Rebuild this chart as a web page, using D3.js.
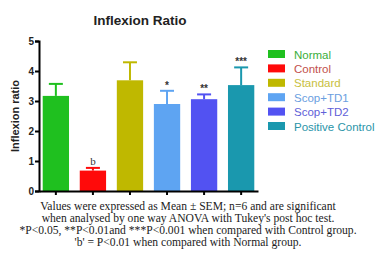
<!DOCTYPE html>
<html>
<head>
<meta charset="utf-8">
<script src="https://cdn.jsdelivr.net/npm/d3@7"></script>
<style>
  body { margin: 0; background: #fff; }
  svg { display: block; }
</style>
</head>
<body>
<svg id="chart" width="378" height="261"></svg>
<script>
const groups = ['Normal', 'Control', 'Standard', 'Scop+TD1', 'Scop+TD2', 'Positive Control']
const means = [3.17, 0.68, 3.69, 2.9, 3.06, 3.53]
const sems = [0.4, 0.09, 0.6, 0.44, 0.16, 0.59]
const marks = ['', 'b', '', '*', '**', '***']
const yTicks = [0, 1, 2, 3, 4, 5]
const notes = [
  'Values were expressed as Mean \u00b1 SEM; n=6 and are significant',
  "when analysed by one way ANOVA with Tukey's post hoc test.",
  '*P<0.05, **P<0.01and ***P<0.001  when compared with Control group.',
  "'b' = P<0.01  when compared with Normal group."
]

const colors = ['#1fc01f', '#ff0a0a', '#bfb800', '#5ea4f2', '#5252f2', '#1a98ae']
const textColors = ['#3aae3a', '#c2504d', '#c8c040', '#6a9ee0', '#6060d8', '#2a94a8']

const svg = d3.select('#chart')
const g = svg.append('g')

const x = d3.scaleBand()
  .domain(groups)
  .range([39, 258])
  .paddingInner(0.29)
  .paddingOuter(0.1)

const y = d3.scaleLinear()
  .domain([0, 5])
  .range([191, 41])

// bars
g.selectAll('rect.bar')
  .data(groups)
  .enter().append('rect')
  .attr('class', 'bar')
  .attr('x', d => x(d))
  .attr('y', (d, i) => y(means[i]))
  .attr('width', x.bandwidth())
  .attr('height', (d, i) => y(0) - y(means[i]))
  .attr('fill', (d, i) => colors[i])

// error bars
const err = g.selectAll('g.err')
  .data(groups)
  .enter().append('g')
  .attr('class', 'err')
  .attr('stroke', (d, i) => colors[i])
  .attr('stroke-width', 2)
err.append('line')
  .attr('x1', d => x(d) + x.bandwidth() / 2)
  .attr('x2', d => x(d) + x.bandwidth() / 2)
  .attr('y1', (d, i) => y(means[i]))
  .attr('y2', (d, i) => y(means[i] + sems[i]))
err.append('line')
  .attr('x1', d => x(d) + x.bandwidth() / 2 - 7)
  .attr('x2', d => x(d) + x.bandwidth() / 2 + 7)
  .attr('y1', (d, i) => y(means[i] + sems[i]))
  .attr('y2', (d, i) => y(means[i] + sems[i]))

// significance marks
g.selectAll('text.mark')
  .data(groups)
  .enter().append('text')
  .attr('class', 'mark')
  .attr('x', d => x(d) + x.bandwidth() / 2)
  .attr('y', (d, i) => y(means[i] + sems[i]) - (marks[i] === 'b' ? 3 : 2))
  .attr('text-anchor', 'middle')
  .attr('font-family', (d, i) => marks[i] === 'b' ? 'Liberation Serif, serif' : 'Liberation Sans, sans-serif')
  .attr('font-size', (d, i) => marks[i] === 'b' ? 11 : 10)
  .attr('font-weight', (d, i) => marks[i] === 'b' ? 'normal' : 'bold')
  .attr('fill', '#333')
  .text((d, i) => marks[i])

// axes
const yAxis = d3.axisLeft(y).tickValues(yTicks).tickSize(4).tickFormat(d3.format('d'))
const ya = g.append('g')
  .attr('transform', 'translate(39,0)')
  .call(yAxis)
ya.select('.domain').attr('stroke-width', 2)
ya.selectAll('.tick line').attr('stroke-width', 2)
ya.selectAll('text')
  .attr('font-family', 'Liberation Sans, Arial, sans-serif')
  .attr('font-weight', 'bold')
  .attr('font-size', 10)
  .attr('fill', '#222')
  .attr('dx', 2)

const xAxis = d3.axisBottom(x).tickSize(4).tickSizeOuter(0).tickFormat('')
const xa = g.append('g')
  .attr('transform', 'translate(0,191)')
  .call(xAxis)
xa.select('.domain').attr('stroke-width', 2)
xa.selectAll('.tick line').attr('stroke-width', 2)

// title and y label
svg.append('text')
  .attr('x', 140)
  .attr('y', 25)
  .attr('text-anchor', 'middle')
  .attr('font-family', 'Liberation Sans, Arial, sans-serif')
  .attr('font-weight', 'bold')
  .attr('font-size', 13.5)
  .attr('fill', '#222')
  .text('Inflexion Ratio')

svg.append('text')
  .attr('transform', 'translate(19,' + y(2.5) + ') rotate(-90)')
  .attr('text-anchor', 'middle')
  .attr('font-family', 'Liberation Sans, Arial, sans-serif')
  .attr('font-weight', 'bold')
  .attr('font-size', 11)
  .attr('fill', '#222')
  .text('Inflexion ratio')

// legend
const leg = svg.append('g').attr('transform', 'translate(268,50)')
const li = leg.selectAll('g')
  .data(groups)
  .enter().append('g')
  .attr('transform', (d, i) => 'translate(0,' + i * 14.4 + ')')
li.append('rect')
  .attr('width', 17)
  .attr('height', 8)
  .attr('fill', (d, i) => colors[i])
li.append('text')
  .attr('x', 26)
  .attr('y', 8.5)
  .attr('font-family', 'Liberation Sans, Arial, sans-serif')
  .attr('font-size', 11.5)
  .attr('fill', (d, i) => textColors[i])
  .text(d => d)

// footnote
svg.append('g')
  .selectAll('text')
  .data(notes)
  .enter().append('text')
  .attr('x', 188)
  .attr('y', (d, i) => 210 + i * 12)
  .attr('text-anchor', 'middle')
  .attr('font-family', 'Liberation Serif, Times New Roman, serif')
  .attr('font-size', 11.6)
  .attr('fill', '#222')
  .text(d => d)
</script>
</body>
</html>
